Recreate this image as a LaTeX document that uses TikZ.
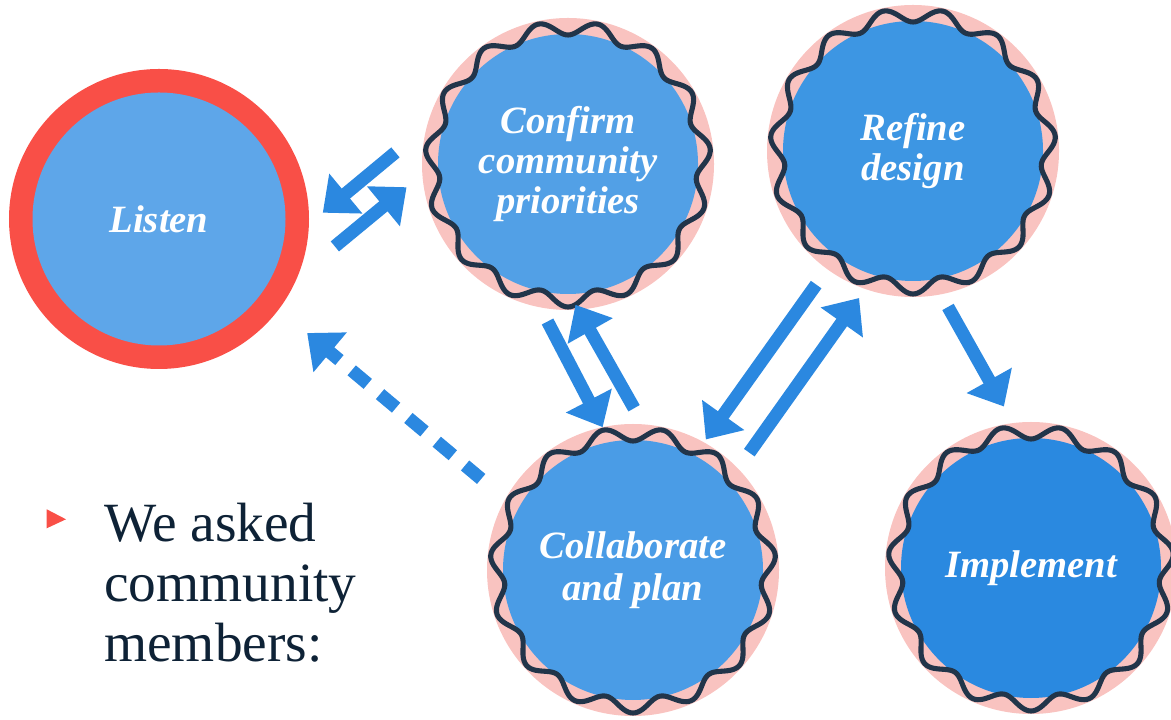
\documentclass[tikz,border=0pt]{standalone}
\usepackage{fontspec}
\setmainfont{Liberation Serif}
\newfontfamily\stagefont{Liberation Serif}
\usepackage{xcolor}
\usepackage{tikz}
\usetikzlibrary{arrows.meta, calc, positioning}
\definecolor{ring-pink}{HTML}{F9C3C0}
\definecolor{ring-red}{HTML}{F94F47}
\definecolor{wave-dark}{HTML}{22354A}
\definecolor{listen-blue}{HTML}{5EA6E9}
\definecolor{confirm-blue}{HTML}{52A0E6}
\definecolor{refine-blue}{HTML}{3D96E3}
\definecolor{collab-blue}{HTML}{4A9CE6}
\definecolor{impl-blue}{HTML}{2A89E0}
\definecolor{arrow-blue}{HTML}{2B88E0}
\definecolor{text-navy}{HTML}{0E2236}
\tikzset{
  % Stage circles
  wave-line/.style={draw=wave-dark, line width=2.9pt, line join=round},
  stage-node/.style={circle, minimum size=5.84cm, inner sep=0pt, outer sep=0pt, fill=ring-pink,
    text=white, align=center, font=\stagefont\bfseries\itshape\fontsize{22}{23}\selectfont,
    path picture={\fill[#1] (path picture bounding box.center) circle (2.6cm);}},
  listen-node/.style={circle, minimum size=6cm, inner sep=0pt, outer sep=0pt, fill=ring-red,
    text=white, font=\stagefont\bfseries\itshape\fontsize{22}{23}\selectfont,
    path picture={\fill[listen-blue] (path picture bounding box.center) circle (2.53cm);}},
  % Arrows
  flow-arrow/.style={-{Triangle[length=0.6cm, width=1cm]}, line width=0.26cm, color=arrow-blue},
  flow-dashed/.style={flow-arrow, dash pattern=on 0.42cm off 0.32cm}
}

\begin{document}
\begin{tikzpicture}
    \useasboundingbox (0,0) rectangle (23.42,14.38);
    % Stages
    \node[listen-node] (listen) at (3.18, 10.0) {Listen};
    \node[stage-node=confirm-blue] (confirm) at (11.36, 11.10) {Confirm\\community\\priorities};
    \node[stage-node=refine-blue] (refine) at (18.26, 11.36) {Refine\\design};
    \node[stage-node=collab-blue, font=\stagefont\bfseries\itshape\fontsize{22}{24}\selectfont]
        (collab) at (12.66, 2.98) {Collaborate\\and plan};
    \node[stage-node=impl-blue] (implement) at (20.62, 3.02) {Implement};

    % Wavy borders
    \foreach \stage in {confirm, refine, collab, implement}
        \draw[wave-line, shift={(\stage.center)}]
            plot[domain=0:360, samples=361] (\x:{2.72+0.14*sin(15*\x)}) -- cycle;

    % Arrows between stages
    \draw[flow-arrow, shorten <=0.82cm, shorten >=0.36cm] (confirm.165) -- (listen.358);
    \draw[flow-arrow, shorten <=0.98cm, shorten >=0.41cm] (listen.337) -- (confirm.184);
    \draw[flow-arrow, shorten <=0.32cm] (confirm.259) -- (collab.102);
    \draw[flow-arrow, shorten <=0.37cm, shorten >=-0.11cm] (collab.86) -- (confirm.274);
    \draw[flow-arrow, shorten <=0.38cm, shorten >=0.07cm] (refine.234) -- (collab.61);
    \draw[flow-arrow, shorten <=0.39cm, shorten >=0.22cm] (collab.44) -- (refine.251);
    \draw[flow-arrow, shorten <=0.29cm, shorten >=0.38cm] (refine.281) -- (implement.97);
    \draw[flow-dashed, shorten <=0.63cm, shorten >=0.74cm] (collab.151) -- (listen.323);

    % Bullet text
    \fill[ring-red] (0.934,4.194) -- (1.32,3.994) -- (0.934,3.814) -- cycle;
    \node[anchor=north west, inner sep=0pt, align=left, text=text-navy,
          font=\fontsize{31.5}{34}\selectfont] (asked) at (2.08,4.32) {We asked\\community\\members:};
\end{tikzpicture}
\end{document}
